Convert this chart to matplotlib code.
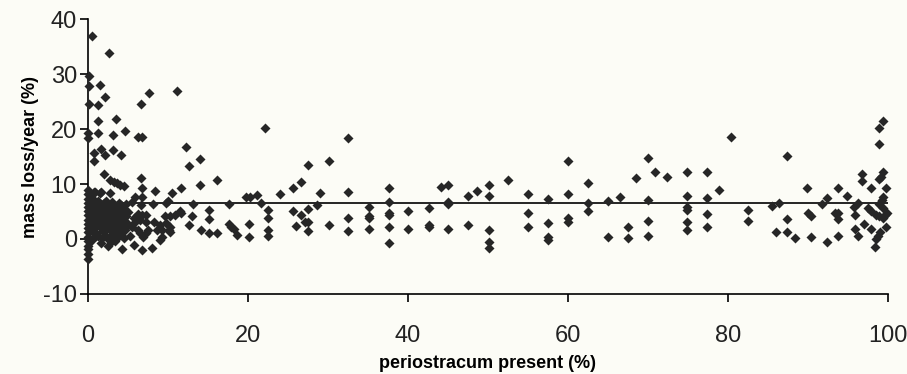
import matplotlib.pyplot as plt

# periostracum present (%) vs mass loss/year (%), grouped by x range
x_low = [0.5, 0.1, 0.1, 0.1, 0.0, 0.0, 0.7, 0.7, 0.0, 0.0, 0.0, 0.0, 0.0, 0.0, 0.0, 0.0, 0.0, 0.0,
         0.0, 0.0, 0.0, 0.0, 0.0, 0.0, 0.0, 0.7, 0.7, 0.5, 0.5, 0.5, 0.5, 0.9, 1.0, 1.0, 1.0, 1.0]
y_low = [36.9, 29.6, 27.9, 24.5, 19.2, 18.4, 15.7, 14.1, 8.9, 8.1, 7.3, 6.5, 5.8, 5.0, 4.3, 3.5, 2.8, 2.0,
         1.2, 0.4, -0.4, -1.3, -1.9, -2.7, -3.7, 8.6, 0.3, 7.5, 5.5, 3.0, 1.5, 8.6, 6.0, 4.5, 2.5, 1.0]

x_upper = [2.6, 1.5, 1.2, 2.1, 1.2, 1.2, 1.6, 2.1, 3.1, 3.5, 3.1, 4.1, 4.6, 2.0, 2.75, 3.2, 3.6, 4.0,
           4.5, 1.6, 2.7, 1.5]
y_upper = [33.9, 28.0, 24.3, 25.9, 21.5, 19.3, 16.4, 15.3, 18.9, 21.8, 16.1, 15.3, 19.7, 11.9, 10.7, 10.4,
           10.1, 9.8, 9.7, 8.6, 8.4, 8.4]

x_dense = [1.3, 1.8, 2.2, 2.6, 3.0, 3.4, 3.9, 4.3, 4.8,
           1.4, 1.9, 2.3, 2.7, 3.1, 3.5, 3.8, 4.2, 4.6, 5.0,
           1.2, 1.6, 2.0, 2.4, 2.8, 3.2, 3.6, 4.0, 4.4, 4.9,
           1.5, 1.9, 2.3, 2.7, 3.1, 3.5, 3.9, 4.3, 4.7,
           1.3, 2.1, 2.9, 3.3, 3.7, 4.1, 4.5,
           2.5, 1.6, 4.2, 3.0, 5.3,
           0.4, 0.8, 1.6, 2.0, 2.5, 2.9, 3.3, 3.7, 4.1, 4.5,
           0.4, 0.8, 1.1, 1.7, 2.1, 2.5, 2.9, 3.3, 3.8, 4.2,
           0.4, 0.8, 1.2, 1.8, 2.2, 2.6, 3.0, 3.4, 4.0, 4.6,
           0.3, 0.9, 1.7, 2.4, 3.4, 3.9]
y_dense = [6.9, 6.2, 7.0, 6.1, 6.8, 6.0, 6.6, 5.9, 6.4,
           5.2, 4.6, 5.4, 4.8, 5.5, 4.4, 5.1, 4.7, 5.3, 4.9,
           3.9, 3.2, 3.8, 2.9, 3.6, 2.8, 3.5, 2.7, 3.3, 2.9,
           2.1, 1.4, 2.3, 1.6, 2.0, 1.2, 1.9, 1.3, 2.2,
           0.6, 0.8, 0.5, 0.9, 0.3, 0.7, 0.2,
           -1.2, -0.7, -1.9, -0.3, 0.5,
           6.3, 5.0, 5.8, 6.6, 5.6, 6.2, 5.2, 5.7, 6.1, 4.3,
           4.2, 3.8, 4.9, 4.0, 4.3, 3.7, 4.1, 3.4, 4.0, 3.6,
           2.4, 2.0, 2.7, 2.5, 1.8, 2.4, 2.8, 2.4, 1.5, 1.6,
           -0.5, 0.4, 0.2, 0.1, -0.4, 1.0]

x_mid1 = [6.6, 7.6, 6.2, 6.7, 6.6, 6.7, 6.7, 5.9, 6.6, 8.4, 8.1, 5.5,
          4.8, 5.7, 6.5, 7.3, 8.2, 5.5, 5.9, 6.3, 6.8, 7.3,
          6.3, 6.5, 6.9, 7.3, 7.5, 8.6, 9.0, 9.3, 9.2, 9.0, 10.1, 9.8,
          8.0, 6.7, 5.7, 9.6, 10.2, 10.9, 11.5, 10.5, 10.0, 11.6, 11.1, 10.2, 10.2, 9.7]
y_mid1 = [24.5, 26.6, 18.6, 18.6, 11.1, 9.2, 7.7, 7.7, 6.2, 8.8, 6.3, 6.8,
          4.1, 3.8, 3.5, 3.1, 3.1, 2.2, 3.0, 4.5, 4.4, 4.3,
          1.6, 1.0, 0.4, 1.0, 1.6, 1.6, 2.5, 1.6, 0.3, -0.2, 1.6, 2.9,
          -1.7, -2.0, -1.1, 4.1, 4.2, 4.4, 5.0, 8.4, 7.0, 9.2, 27.0, 2.2, 1.3, 6.5]

x_mid2 = [12.2, 12.6, 14.0, 16.1, 14.0, 13.1, 17.6, 19.8, 20.3, 21.1, 21.6, 22.1,
          11.6, 13.0, 12.6, 15.1, 15.1, 14.1, 15.1, 16.1, 17.6, 17.9, 18.2, 18.6, 20.1, 20.1]
y_mid2 = [16.8, 13.3, 14.6, 10.8, 9.9, 6.3, 6.4, 7.7, 7.6, 8.0, 6.6, 20.1,
          4.7, 4.1, 2.6, 5.3, 3.6, 1.6, 1.0, 1.0, 2.8, 2.1, 1.8, 0.8, 2.7, 0.4]

x_mid3 = [22.5, 22.5, 22.5, 22.5, 24.0, 25.6, 26.6, 27.5, 30.1, 32.5, 29.0, 32.5, 37.6, 37.6, 28.6,
          27.5, 25.6, 26.6, 27.1, 27.5, 27.5, 26.0, 30.1, 32.5, 32.5, 35.1, 35.1, 35.1, 37.6, 37.6,
          37.6, 37.6, 40.0, 40.0, 35.1]
y_mid3 = [5.2, 3.8, 1.6, 0.6, 8.1, 9.3, 10.4, 13.5, 14.2, 18.3, 8.4, 8.5, 9.3, 6.8, 6.1,
          5.4, 5.1, 4.4, 3.0, 3.0, 1.5, 2.4, 2.6, 3.9, 1.5, 5.9, 3.8, 1.8, 4.8, 4.3,
          2.1, -0.7, 5.1, 1.8, 4.2]

x_mid4 = [42.6, 42.6, 42.6, 44.1, 45.0, 45.0, 45.0, 45.0, 47.5, 48.6, 47.5, 50.1, 50.1, 50.1, 50.1,
          50.1, 52.5, 55.0, 55.0, 55.0, 57.5, 57.5, 57.5, 57.5, 60.0, 60.0, 60.0, 60.0]
y_mid4 = [5.6, 2.6, 2.2, 9.5, 9.9, 6.8, 6.3, 1.8, 7.8, 8.8, 2.5, 9.9, 7.9, 1.6, -0.5,
          -1.7, 10.8, 8.1, 4.8, 2.1, 7.2, 2.9, 0.3, -0.2, 14.1, 8.1, 3.8, 3.0]

x_high1 = [62.5, 62.5, 62.5, 65.0, 65.0, 66.5, 67.5, 67.5, 68.5, 70.0, 70.9, 72.4, 70.0, 70.0, 70.0,
           74.9, 74.9, 74.9, 74.9, 74.9, 74.9, 77.4, 77.4, 77.4, 77.4, 78.9]
y_high1 = [10.1, 6.6, 5.0, 6.9, 0.3, 7.7, 2.1, 0.2, 11.1, 14.8, 12.1, 11.3, 7.1, 3.3, 0.5,
           12.2, 7.9, 5.9, 5.3, 3.0, 1.6, 12.1, 7.4, 4.5, 2.1, 8.9]

x_high2 = [80.4, 87.4, 82.5, 82.5, 85.5, 86.4, 86.0, 87.4, 87.4, 88.4, 89.9, 90.0, 90.4, 90.4, 91.8,
           92.4, 92.4, 93.4, 93.8, 93.8, 93.8, 93.8, 94.9, 95.8, 96.2, 95.9, 95.9, 96.3, 97.0, 96.8,
           96.8, 97.9, 97.9, 97.5, 97.9, 98.5, 98.9, 98.8, 98.5, 98.4, 99.4, 98.9, 98.9, 99.4, 99.1,
           98.9, 99.8, 99.4, 99.2, 98.9, 99.9, 99.4, 99.8, 99.0, 99.4, 99.6]
y_high2 = [18.6, 15.1, 5.3, 3.2, 6.0, 6.6, 1.2, 3.6, 1.3, 0.1, 9.3, 4.7, 4.1, 0.4, 6.3,
           7.5, -0.6, 4.8, 4.8, 3.6, 9.2, 0.5, 7.9, 5.9, 6.6, 4.4, 1.9, 0.5, 2.7, 11.8,
           10.6, 9.2, 1.9, 5.6, 5.0, 4.4, 4.1, 0.5, 0.0, -1.4, 21.5, 20.1, 17.3, 12.1, 11.3,
           11.0, 9.2, 7.7, 7.1, 6.4, 4.8, 3.8, 2.2, 1.3, 5.6, 4.3]

mean_loss = 6.5
x_ticks = [0, 20, 40, 60, 80, 100]
y_ticks = [-10, 0, 10, 20, 30, 40]

xs = x_low + x_upper + x_dense + x_mid1 + x_mid2 + x_mid3 + x_mid4 + x_high1 + x_high2
ys = y_low + y_upper + y_dense + y_mid1 + y_mid2 + y_mid3 + y_mid4 + y_high1 + y_high2

plt.rcParams['font.family'] = ['Liberation Sans', 'DejaVu Sans']
plt.rcParams['axes.unicode_minus'] = False
bg = '#fcfcf6'

fig = plt.figure(figsize=(9.07, 3.74), dpi=100, facecolor=bg)
ax = fig.add_axes([0.097, 0.214, 0.882, 0.735])
ax.set_facecolor(bg)

ax.plot([0, 100], [mean_loss, mean_loss], '-', c='black', linewidth=1.2, zorder=2)
ax.scatter(xs, ys, marker='D', s=26, c='#262626', linewidths=0, zorder=3, clip_on=False)

ax.set_xlim(0, 100)
ax.set_ylim(-10, 40)
ax.set_xticks(x_ticks)
ax.set_yticks(y_ticks)
ax.spines['top'].set_visible(False)
ax.spines['right'].set_visible(False)
ax.spines['left'].set_linewidth(1.2)
ax.spines['bottom'].set_linewidth(1.2)
ax.tick_params(axis='both', direction='out', length=6, width=1.2, colors='black')
ax.tick_params(axis='x', labelsize=17, pad=16, labelcolor='#222222')
ax.tick_params(axis='y', labelsize=17, pad=2, labelcolor='#222222')

ax.set_xlabel('periostracum present (%)', fontsize=13, fontweight='bold', labelpad=6)
ax.set_ylabel('mass loss/year (%)', fontsize=13, fontweight='bold', labelpad=3)

plt.savefig('out.png', dpi=100, facecolor=bg)
